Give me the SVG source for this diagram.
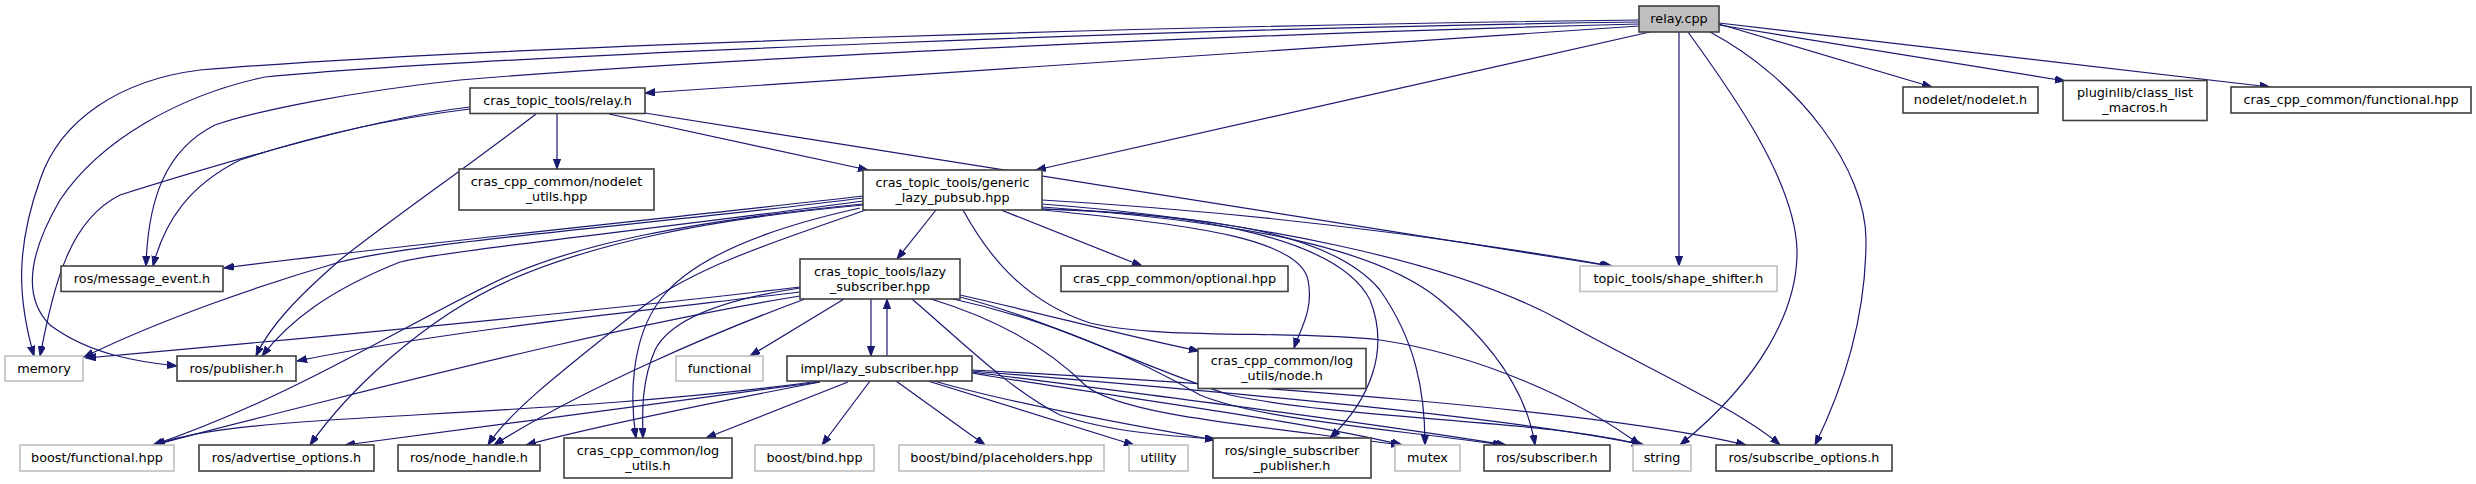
<svg xmlns="http://www.w3.org/2000/svg" width="2476" height="484" viewBox="0 0 2476 484">
<defs>
<marker id="a" markerWidth="11" markerHeight="8" refX="10" refY="3.6" orient="auto" markerUnits="userSpaceOnUse"><path d="M0,0 L10,3.6 L0,7.2 z" fill="#191970" stroke="#191970" stroke-width="1"/></marker>
</defs>
<style>
.n rect{fill:#fff;stroke:#404040;stroke-width:1.6}
.n.g rect{stroke:#bfbfbf}
.n.r rect{fill:#bfbfbf}
text{font-family:"DejaVu Sans","Liberation Sans",sans-serif;font-size:12.8px;text-anchor:middle;fill:#000}
#edges path{fill:none;stroke:#191970;stroke-width:1.2;marker-end:url(#a)}
</style>
<rect width="2476" height="484" fill="#fff"/>
<g id="edges">
<!-- relay.cpp -->
<path d="M1639,26 L645,93"/>
<path d="M1650,32 L1036,170"/>
<path d="M1639,20 C1200,25 500,45 200,70 C120,80 60,120 40,180 C15,250 18,300 34,356"/>
<path d="M1639,22 C1200,28 500,55 265,77 C180,95 100,140 60,200 C25,260 25,300 50,325 C90,355 140,362 177,366"/>
<path d="M1639,24 C1200,35 700,60 460,80 C350,92 260,110 215,125 C165,150 148,200 146,266"/>
<path d="M1679,32 L1679,266"/>
<path d="M1688,32 C1730,90 1795,180 1797,250 C1798,310 1760,380 1680,445"/>
<path d="M1710,32 C1800,80 1866,170 1866,240 C1866,320 1842,390 1815,445"/>
<path d="M1719,24 L1932,87"/>
<path d="M1719,25 L2065,81"/>
<path d="M1719,23 L2270,87"/>
<!-- relay.h -->
<path d="M557,114 L557,169"/>
<path d="M609,114 L868,170"/>
<path d="M645,113 L1610,266"/>
<path d="M470,107 C370,118 200,170 120,195 C70,220 55,280 40,356"/>
<path d="M470,109 C380,120 300,140 240,160 C190,185 165,220 153,266"/>
<path d="M536,114 C470,165 390,220 340,260 C300,295 270,325 256,356"/>
<!-- generic -->
<path d="M936,210 L897,259"/>
<path d="M1001,210 L1142,266"/>
<path d="M1042,210 C1200,225 1300,240 1308,280 C1314,310 1300,330 1294,348"/>
<path d="M1042,200 C1250,212 1450,238 1612,266"/>
<path d="M1042,204 C1250,220 1450,260 1560,320 C1650,370 1740,410 1780,445"/>
<path d="M1042,207 C1250,222 1380,250 1440,300 C1500,350 1528,400 1535,445"/>
<path d="M1042,209 C1200,215 1330,230 1380,290 C1415,340 1425,390 1425,445"/>
<path d="M1042,209 C1200,212 1340,240 1370,300 C1390,350 1370,400 1330,438"/>
<path d="M963,210 C985,250 1020,300 1090,323 C1160,340 1300,330 1380,340 C1480,355 1580,400 1640,445"/>
<path d="M863,196 C700,215 400,245 224,268"/>
<path d="M863,198 C650,225 430,240 340,262 C260,285 160,320 84,357"/>
<path d="M863,201 C650,230 450,250 400,262 C330,290 290,320 262,356"/>
<path d="M863,204 C680,222 580,245 510,275 C420,315 300,395 153,445"/>
<path d="M863,205 C700,220 590,245 510,280 C420,320 345,395 310,445"/>
<path d="M866,210 C780,240 700,265 645,305 C570,365 510,410 488,445"/>
<path d="M860,208 C760,230 690,260 660,300 C630,340 630,400 636,438"/>
<!-- lazy_subscriber -->
<path d="M871,299 L871,356"/>
<path d="M844,299 L750,356"/>
<path d="M800,287 C650,305 400,330 86,358"/>
<path d="M800,292 C650,310 450,330 297,361"/>
<path d="M800,296 C650,320 450,370 330,400 C250,420 190,435 155,445"/>
<path d="M805,299 C720,330 580,390 494,445"/>
<path d="M800,288 C720,300 670,320 655,350 C642,380 642,410 643,438"/>
<path d="M960,295 C1050,315 1120,335 1199,351"/>
<path d="M912,299 C960,340 1010,390 1060,415 C1110,432 1170,436 1215,439"/>
<path d="M931,299 C1000,320 1050,350 1085,385 C1120,415 1250,425 1401,445"/>
<path d="M953,299 C1050,320 1140,360 1200,395 C1260,420 1400,430 1503,445"/>
<path d="M960,297 C1050,320 1150,370 1230,395 C1350,420 1550,420 1642,445"/>
<!-- impl/lazy_subscriber -->
<path d="M887,356 L887,299"/>
<path d="M870,381 L822,445"/>
<path d="M896,381 L985,445"/>
<path d="M928,381 L1134,445"/>
<path d="M934,381 C1000,400 1100,420 1215,440"/>
<path d="M972,373 C1100,395 1300,420 1402,445"/>
<path d="M972,372 C1150,395 1350,420 1506,445"/>
<path d="M972,371 C1200,390 1500,415 1644,445"/>
<path d="M972,370 C1250,385 1600,410 1746,445"/>
<path d="M820,381 C650,405 450,412 330,420 C240,426 190,432 155,445"/>
<path d="M820,382 C680,400 500,425 345,445"/>
<path d="M820,382 C700,405 600,425 526,445"/>
<path d="M848,382 L706,438"/>
</g>
<g id="node1" class="n r"><rect x="1639" y="6" width="80" height="26"/><text x="1679" y="23.3">relay.cpp</text></g>
<g id="node2" class="n"><rect x="470" y="88" width="175" height="25.5"/><text x="557.5" y="105">cras_topic_tools/relay.h</text></g>
<g id="node3" class="n"><rect x="863" y="170" width="179" height="40"/><text x="952.5" y="186.7">cras_topic_tools/generic</text><text x="952.5" y="201.7">_lazy_pubsub.hpp</text></g>
<g id="node4" class="n g"><rect x="5" y="356" width="78" height="25"/><text x="44" y="372.8">memory</text></g>
<g id="node5" class="n"><rect x="61" y="266" width="162" height="25.5"/><text x="142" y="283">ros/message_event.h</text></g>
<g id="node6" class="n"><rect x="177" y="356" width="119" height="25"/><text x="236.5" y="372.8">ros/publisher.h</text></g>
<g id="node7" class="n g"><rect x="1580" y="266" width="197" height="25.5"/><text x="1678.5" y="283">topic_tools/shape_shifter.h</text></g>
<g id="node8" class="n"><rect x="459" y="169" width="195" height="41"/><text x="556.5" y="186.2">cras_cpp_common/nodelet</text><text x="556.5" y="201.2">_utils.hpp</text></g>
<g id="node9" class="n"><rect x="1716" y="445" width="176" height="26"/><text x="1804" y="462.3">ros/subscribe_options.h</text></g>
<g id="node10" class="n g"><rect x="1633" y="445" width="58" height="26"/><text x="1662" y="462.3">string</text></g>
<g id="node11" class="n"><rect x="1903" y="87" width="135" height="26"/><text x="1970.5" y="104.3">nodelet/nodelet.h</text></g>
<g id="node12" class="n"><rect x="2063" y="80.5" width="144" height="40"/><text x="2135" y="97.2">pluginlib/class_list</text><text x="2135" y="112.2">_macros.h</text></g>
<g id="node13" class="n"><rect x="2231" y="87" width="240" height="26"/><text x="2351" y="104.3">cras_cpp_common/functional.hpp</text></g>
<g id="node14" class="n"><rect x="800" y="259" width="160" height="40"/><text x="880" y="275.7">cras_topic_tools/lazy</text><text x="880" y="290.7">_subscriber.hpp</text></g>
<g id="node15" class="n"><rect x="1061" y="266" width="227" height="25.5"/><text x="1174.5" y="283">cras_cpp_common/optional.hpp</text></g>
<g id="node16" class="n"><rect x="1198" y="348.5" width="168" height="40"/><text x="1282" y="365.2">cras_cpp_common/log</text><text x="1282" y="380.2">_utils/node.h</text></g>
<g id="node17" class="n g"><rect x="676" y="356" width="87" height="25"/><text x="719.5" y="372.8">functional</text></g>
<g id="node18" class="n"><rect x="787" y="356" width="185" height="25"/><text x="879.5" y="372.8">impl/lazy_subscriber.hpp</text></g>
<g id="node19" class="n g"><rect x="20" y="445" width="154" height="26"/><text x="97" y="462.3">boost/functional.hpp</text></g>
<g id="node20" class="n"><rect x="199" y="445" width="175" height="26"/><text x="286.5" y="462.3">ros/advertise_options.h</text></g>
<g id="node21" class="n"><rect x="398" y="445" width="142" height="26"/><text x="469" y="462.3">ros/node_handle.h</text></g>
<g id="node22" class="n"><rect x="564" y="438" width="168" height="40"/><text x="648" y="454.7">cras_cpp_common/log</text><text x="648" y="469.7">_utils.h</text></g>
<g id="node23" class="n g"><rect x="755" y="445" width="119" height="26"/><text x="814.5" y="462.3">boost/bind.hpp</text></g>
<g id="node24" class="n g"><rect x="899" y="445" width="205" height="26"/><text x="1001.5" y="462.3">boost/bind/placeholders.hpp</text></g>
<g id="node25" class="n g"><rect x="1129" y="445" width="59" height="26"/><text x="1158.5" y="462.3">utility</text></g>
<g id="node26" class="n"><rect x="1213" y="438" width="158" height="40"/><text x="1292" y="454.7">ros/single_subscriber</text><text x="1292" y="469.7">_publisher.h</text></g>
<g id="node27" class="n g"><rect x="1395" y="445" width="65" height="26"/><text x="1427.5" y="462.3">mutex</text></g>
<g id="node28" class="n"><rect x="1484" y="445" width="126" height="26"/><text x="1547" y="462.3">ros/subscriber.h</text></g>
</svg>
